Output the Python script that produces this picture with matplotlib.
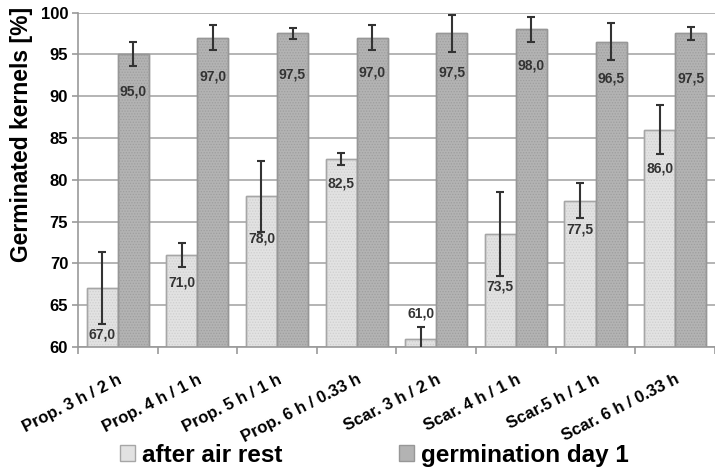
import matplotlib.pyplot as plt
import numpy as np

plt.rcParams['font.family'] = ['Liberation Sans', 'DejaVu Sans']
plt.rcParams['font.weight'] = 'bold'
plt.rcParams['axes.labelweight'] = 'bold'
plt.rcParams['hatch.linewidth'] = 0.6

#### Data ####

treatments = ['Prop. 3 h / 2 h', 'Prop. 4 h / 1 h', 'Prop. 5 h / 1 h', 'Prop. 6 h / 0.33 h',
              'Scar. 3 h / 2 h', 'Scar. 4 h / 1 h', 'Scar.5 h / 1 h', 'Scar. 6 h / 0.33 h']

after_rest = [67.0, 71.0, 78.0, 82.5, 61.0, 73.5, 77.5, 86.0]
after_rest_err = [4.3, 1.45, 4.2, 0.7, 1.4, 5.0, 2.1, 2.9]

day1 = [95.0, 97.0, 97.5, 97.0, 97.5, 98.0, 96.5, 97.5]
day1_err = [1.45, 1.5, 0.7, 1.5, 2.2, 1.5, 2.2, 0.75]

# where the value labels sit (y in %)
after_rest_label_y = [61.5, 67.7, 73.0, 79.5, 64.0, 67.2, 74.1, 81.3]
day1_label_y = [90.6, 92.3, 92.6, 92.8, 92.8, 93.7, 92.1, 92.1]

#### Plot ####

x = np.arange(len(treatments)) + 0.5
w = 0.39

fig = plt.figure(figsize=(7.15, 4.72), dpi=100)
ax = fig.add_axes([0.109, 0.265, 0.891, 0.7085])

ax.yaxis.grid(True, color='#b4b4b4', linewidth=1.4)
ax.set_axisbelow(True)

for xs, vals, err, face, hatch_col, edge in [
        (x - w / 2, after_rest, after_rest_err, '#e2e2e2', '#cfcfcf', '#a6a6a6'),
        (x + w / 2, day1, day1_err, '#b3b3b3', '#9e9e9e', '#979797')]:
    ax.bar(xs, vals, w, bottom=0, color=face, edgecolor=edge, linewidth=1.0, zorder=2)
    ax.bar(xs, vals, w, fill=False, edgecolor=hatch_col, hatch='......', linewidth=0, zorder=2)
    ax.bar(xs, vals, w, fill=False, edgecolor=edge, linewidth=1.0, zorder=2)
    ax.errorbar(xs, vals, yerr=err, fmt='none', ecolor='#333333', elinewidth=1.5,
                capsize=3, capthick=1.5, zorder=3)

for xi, v, ly in zip(x - w / 2, after_rest, after_rest_label_y):
    ax.text(xi, ly, f'{v:.1f}'.replace('.', ','), ha='center', va='center',
            fontsize=10, fontweight='bold', color='#333333', zorder=4)
for xi, v, ly in zip(x + w / 2, day1, day1_label_y):
    ax.text(xi, ly, f'{v:.1f}'.replace('.', ','), ha='center', va='center',
            fontsize=10, fontweight='bold', color='#333333', zorder=4)

ax.set_xlim(0, len(treatments))
ax.set_ylim(60, 100)
ax.set_yticks(np.arange(60, 101, 5))
ax.set_yticklabels([str(v) for v in range(60, 101, 5)], fontweight='bold', fontsize=12)
ax.tick_params(axis='y', length=4, color='#999999', width=1.2, pad=3)

ax.set_xticks(np.arange(len(treatments) + 1))
ax.set_xticklabels([])
ax.set_xticks(x, minor=True)
ax.set_xticklabels(treatments, minor=True, rotation=27, ha='right',
                   rotation_mode='anchor', fontsize=12, fontweight='bold')
ax.tick_params(axis='x', which='major', length=5, color='#999999', width=1.2)
ax.tick_params(axis='x', which='minor', length=0, pad=18)

for side in ['top', 'right']:
    ax.spines[side].set_visible(False)
for side in ['left', 'bottom']:
    ax.spines[side].set_color('#999999')
    ax.spines[side].set_linewidth(1.2)

ax.set_ylabel('Germinated kernels [%]', fontsize=16.5, fontweight='bold')
ax.yaxis.set_label_coords(-0.071, 0.636)

handles = [plt.Rectangle((0, 0), 1, 1, facecolor='#e2e2e2', edgecolor='#a6a6a6'),
           plt.Rectangle((0, 0), 1, 1, facecolor='#b3b3b3', edgecolor='#979797')]
fig.legend(handles, ['after air rest', 'germination day 1'], loc='lower center',
           bbox_to_anchor=(0.524, -0.035), ncol=2, frameon=False,
           prop={'weight': 'bold', 'size': 17.5},
           handlelength=0.6, handleheight=0.6, handletextpad=0.3, columnspacing=4.8)

fig.savefig('out.png', dpi=100)
